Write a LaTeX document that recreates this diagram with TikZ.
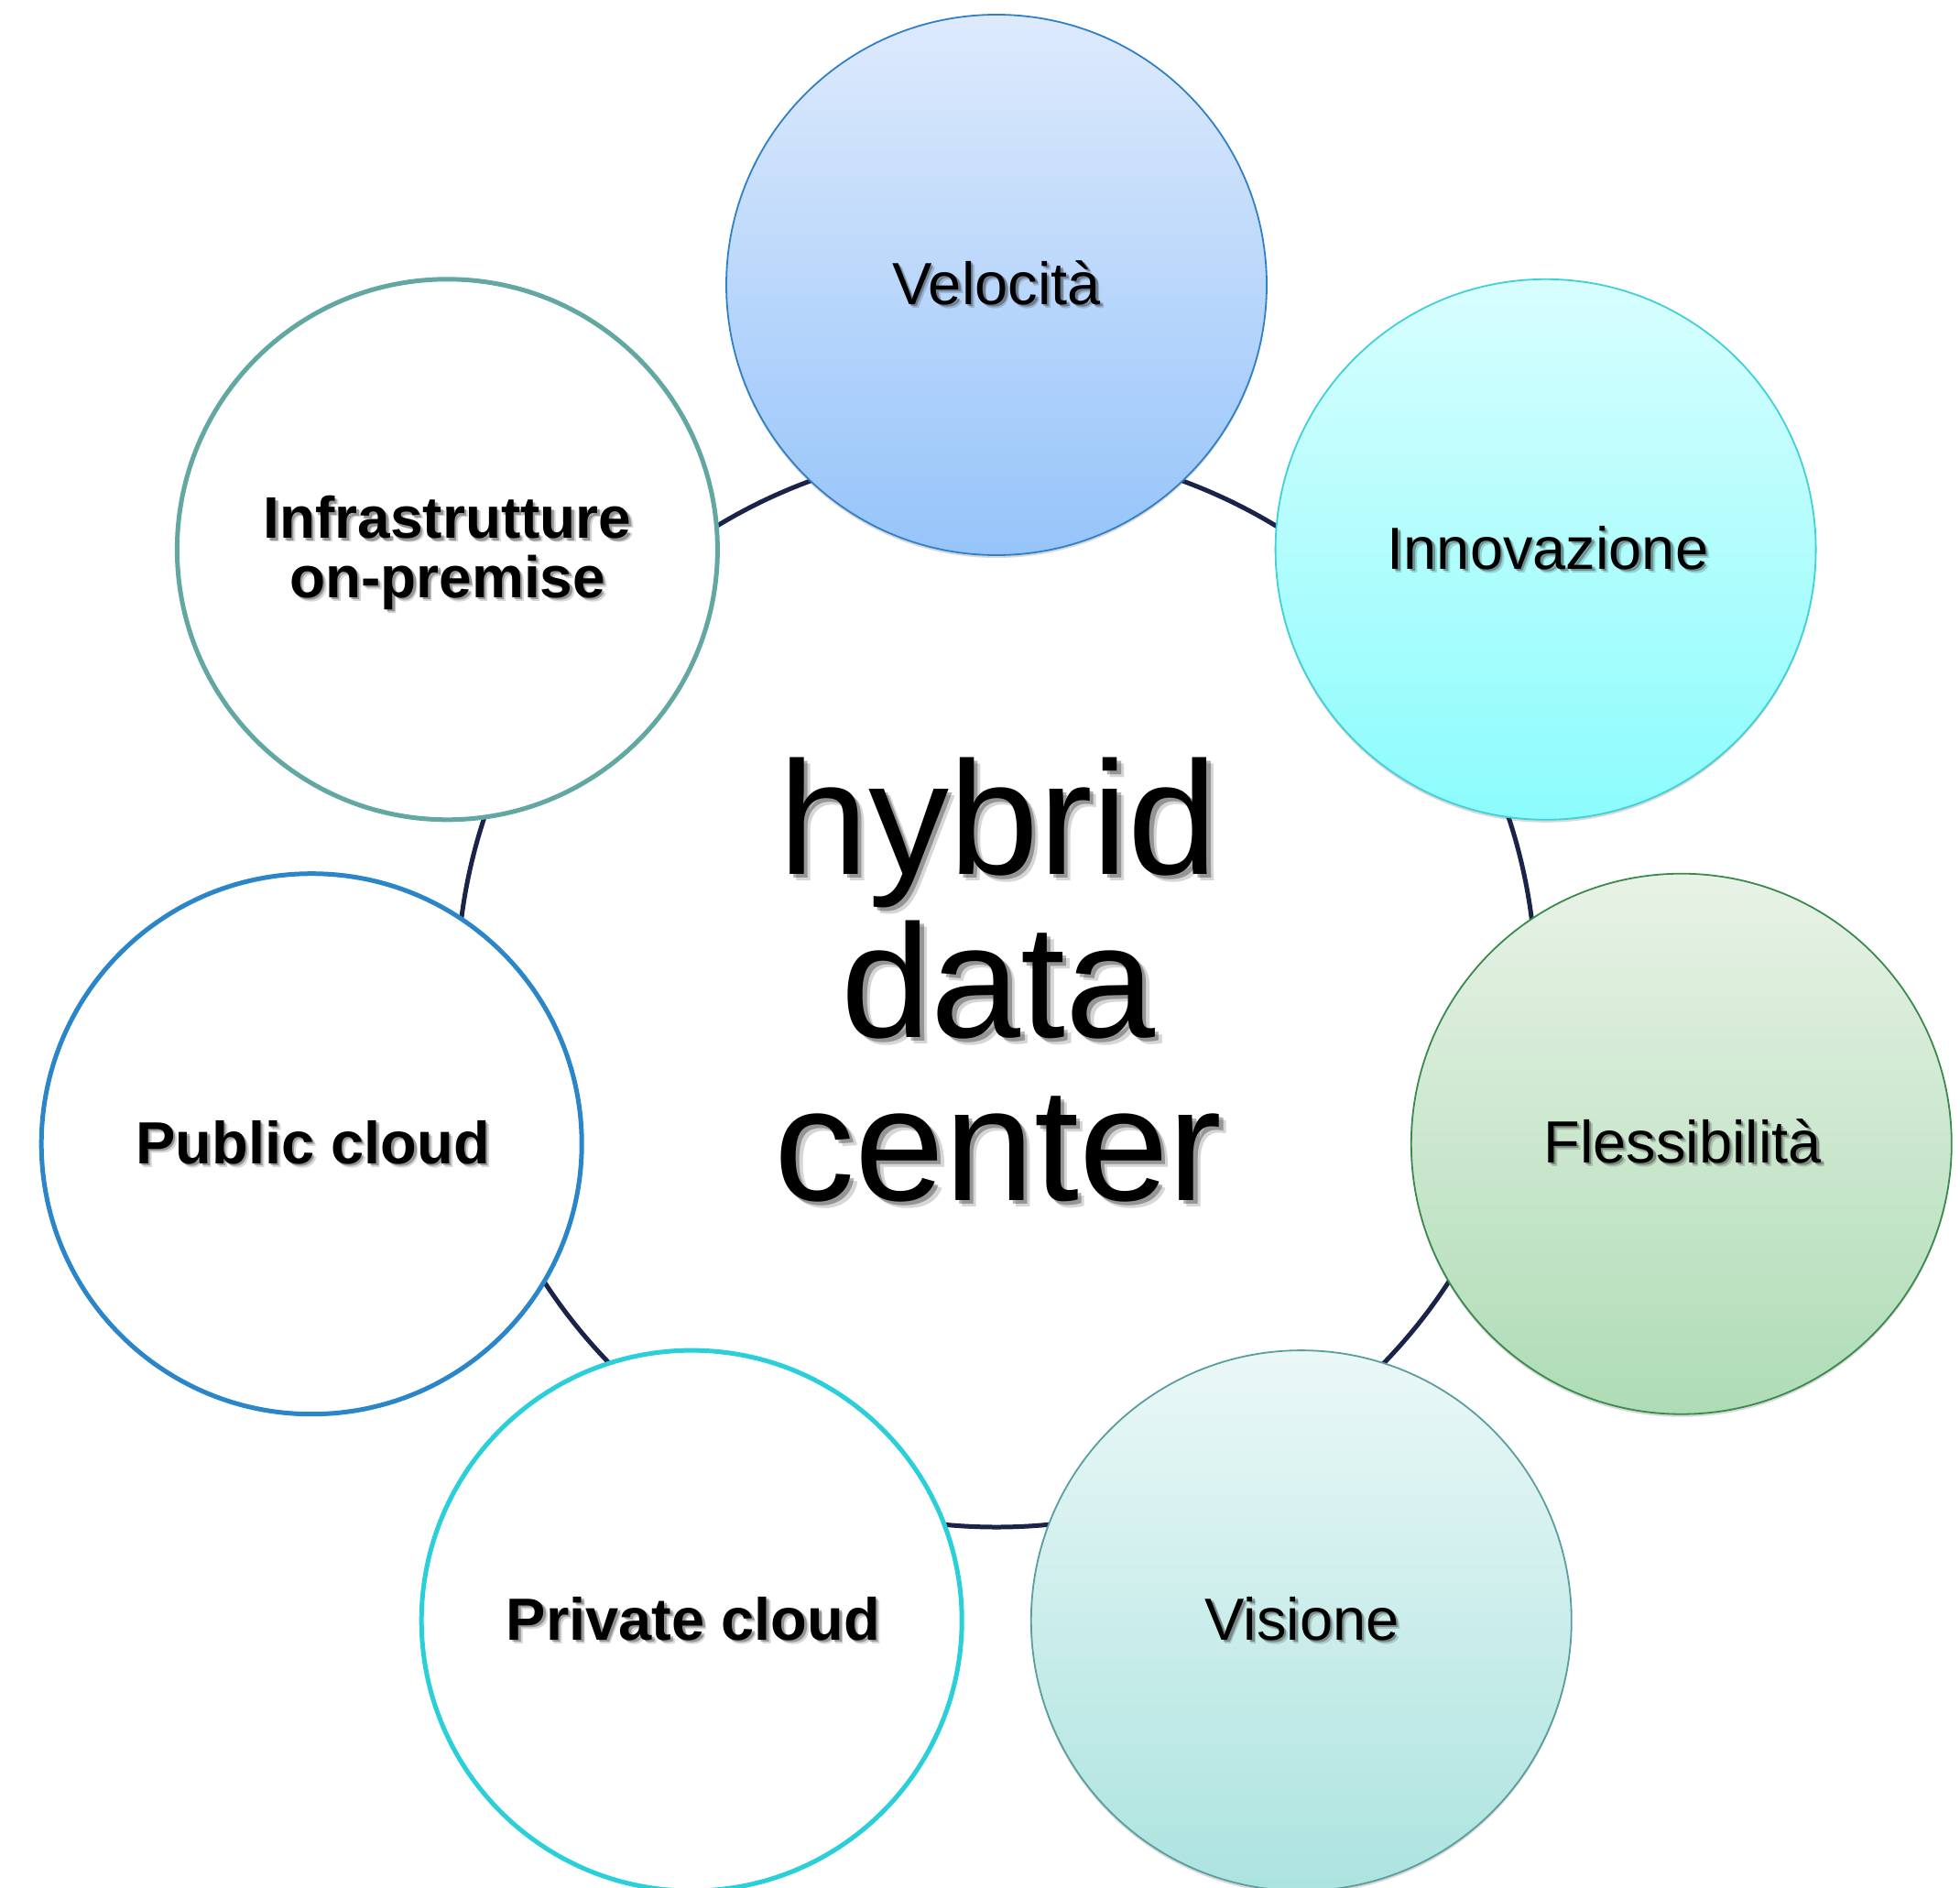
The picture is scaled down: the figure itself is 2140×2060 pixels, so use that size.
\documentclass[tikz,border=0pt]{standalone}
\usepackage{fontspec}
\setmainfont{Liberation Sans}
\usetikzlibrary{calc,shadows}
\definecolor{ringcol}{RGB}{27,35,72}
\definecolor{velTop}{RGB}{222,234,252}
\definecolor{velBot}{RGB}{150,196,250}
\definecolor{velLine}{RGB}{48,128,200}
\definecolor{innTop}{RGB}{216,254,254}
\definecolor{innBot}{RGB}{140,252,252}
\definecolor{innLine}{RGB}{64,208,216}
\definecolor{fleTop}{RGB}{232,242,230}
\definecolor{fleBot}{RGB}{174,220,182}
\definecolor{fleLine}{RGB}{58,138,78}
\definecolor{visTop}{RGB}{234,248,247}
\definecolor{visBot}{RGB}{172,227,223}
\definecolor{visLine}{RGB}{90,158,158}
\definecolor{infraLine}{RGB}{98,167,162}
\definecolor{pubLine}{RGB}{42,134,200}
\definecolor{privLine}{RGB}{42,207,218}
\newcommand\shtext[6]{%
  \node[#4, text opacity=0.16] (#1-a) at (#2+#6*1.7, #3+#6*1.7) {#5};
  \node[#4, text opacity=0.30] (#1-b) at (#2+#6, #3+#6) {#5};
  \node[#4] (#1) at (#2,#3) {#5};
}
\begin{document}
\begin{tikzpicture}[x=1pt,y=-1pt,
  bubble/.style={circle, minimum size=590pt, inner sep=0pt, outer sep=0pt},
  filledbubble/.style={bubble, line width=1.8pt,
    drop shadow={shadow xshift=0pt, shadow yshift=-3pt, opacity=0.22, fill=black!70}},
  openbubble/.style={bubble, fill=white, line width=5pt},
  ring/.style={draw=ringcol, line width=5pt},
  lbl/.style={inner sep=0pt, outer sep=0pt, anchor=base, text=black,
    font=\fontsize{65}{65}\selectfont},
  lblb/.style={lbl, font=\fontsize{65}{65}\selectfont\bfseries},
  hubtxt/.style={lbl, align=center, font=\fontsize{176}{178}\selectfont}
]
\useasboundingbox (0,0) rectangle (2140,2060);
\coordinate (ctr) at (1088,1078);
% ring connecting the bubbles
\draw[ring] (ctr) circle[radius=589pt];
% bubbles
\node[filledbubble, draw=velLine, top color=velTop, bottom color=velBot] (c1) at (1088,311) {};
\node[filledbubble, draw=innLine, top color=innTop, bottom color=innBot] (c2) at (1687.6,599.8) {};
\node[filledbubble, draw=fleLine, top color=fleTop, bottom color=fleBot] (c3) at (1835.8,1248.7) {};
\node[filledbubble, draw=visLine, top color=visTop, bottom color=visBot] (c4) at (1420.8,1769.1) {};
\node[openbubble, draw=privLine] (c5) at (755.2,1769.1) {};
\node[openbubble, draw=pubLine] (c6) at (340.2,1248.7) {};
\node[openbubble, draw=infraLine] (c7) at (488.4,599.8) {};
% labels
\shtext{t1}{1088}{332}{lbl}{Velocità}{2.5}
\shtext{t2}{1690}{621}{lbl}{Innovazione}{2.5}
\shtext{t3}{1837}{1269}{lbl}{Flessibilità}{2.5}
\shtext{t4}{1421.5}{1790}{lbl}{Visione}{2.5}
\shtext{t5}{757}{1790}{lblb}{Private cloud}{2.5}
\shtext{t6}{341.5}{1270}{lblb}{Public cloud}{2.5}
\shtext{t7}{488.5}{652}{lblb, align=center, font=\fontsize{64}{64.5}\selectfont\bfseries}{Infrastrutture\\on-premise}{2.5}
\shtext{hub}{1090}{1310}{hubtxt}{hybrid\\data\\center}{4.5}
\end{tikzpicture}
\end{document}
